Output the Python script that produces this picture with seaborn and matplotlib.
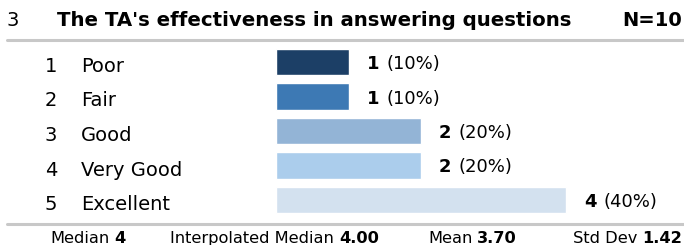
import numpy as np
import pandas as pd
import matplotlib
matplotlib.use("Agg")
import matplotlib.pyplot as plt
from matplotlib.lines import Line2D
import seaborn as sns

# data
codes = [1, 2, 3, 4, 5]
labels = ["Poor", "Fair", "Good", "Very Good", "Excellent"]
counts = [1, 1, 2, 2, 4]
percents = [10, 10, 20, 20, 40]
bar_colors = ["#1c3f66", "#3d79b4", "#93b4d6", "#abcdec", "#d3e1ef"]

question_no = "3"
title = "The TA's effectiveness in answering questions"
n_total = 10
stat_names = ["Median", "Interpolated Median", "Mean", "Std Dev"]
stat_values = ["4", "4.00", "3.70", "1.42"]

W, H = 684, 245
sns.set_theme(style="white")
plt.rcParams["font.family"] = ["DejaVu Sans"]

fig = plt.figure(figsize=(W / 100, H / 100), dpi=100)
fig.patch.set_facecolor("white")
ax = fig.add_axes([276 / W, 1 - 217.25 / H, (W - 276) / W, 172.5 / H])

df = pd.DataFrame({"label": labels, "count": counts})
sns.barplot(data=df, x="count", y="label", hue="label", order=labels,
            hue_order=labels, palette=bar_colors, orient="h", width=0.754,
            saturation=1, legend=False, ax=ax)
ax.set_xlim(0, (W - 276) / 72.5)
ax.set_ylim(len(labels) - 0.5, -0.5)
ax.axis("off")

renderer = fig.canvas.get_renderer()


def text_width(s, size, weight):
    t = fig.text(0, 0, s, fontsize=size, fontweight=weight)
    w = t.get_window_extent(renderer).width
    t.remove()
    return w


def put_runs(x, y, runs, size, ha="left", gap=5, color="#000000"):
    # x, y in pixels from top-left, y is the baseline
    widths = [text_width(s, size, w) for s, w in runs]
    total = sum(widths) + gap * (len(runs) - 1)
    if ha == "right":
        x -= total
    for (s, w), wd in zip(runs, widths):
        fig.text(x / W, 1 - y / H, s, fontsize=size, fontweight=w,
                 ha="left", va="baseline", color=color)
        x += wd + gap


# header
put_runs(7, 26, [(question_no, "normal")], 14)
put_runs(57, 26, [(title, "bold")], 14.2)
put_runs(682, 26, [(f"N={n_total}", "bold")], 14, ha="right")

# rows
for i, (c, lab, n, p) in enumerate(zip(codes, labels, counts, percents)):
    bx, by = ax.transData.transform((n, i))
    yc = H - by
    put_runs(57, yc + 10, [(str(c), "normal")], 14, ha="right")
    put_runs(81, yc + 10, [(lab, "normal")], 14)
    put_runs(bx + 18, yc + 7, [(str(n), "bold"), (f"({p}%)", "normal")], 13, gap=7)

# separator lines
for yy in [40, 223.5]:
    fig.add_artist(Line2D([7 / W, 1], [1 - yy / H, 1 - yy / H],
                          transform=fig.transFigure, color="#c8c8c8", lw=2.2))

# footer stats
starts = [50, 170, 428]
for x0, nm, v in zip(starts, stat_names[:3], stat_values[:3]):
    put_runs(x0, 243, [(nm, "normal"), (v, "bold")], 11.7)
put_runs(682, 243, [(stat_names[3], "normal"), (stat_values[3], "bold")], 11.7, ha="right")

fig.savefig("out.png", dpi=100, facecolor="white")
